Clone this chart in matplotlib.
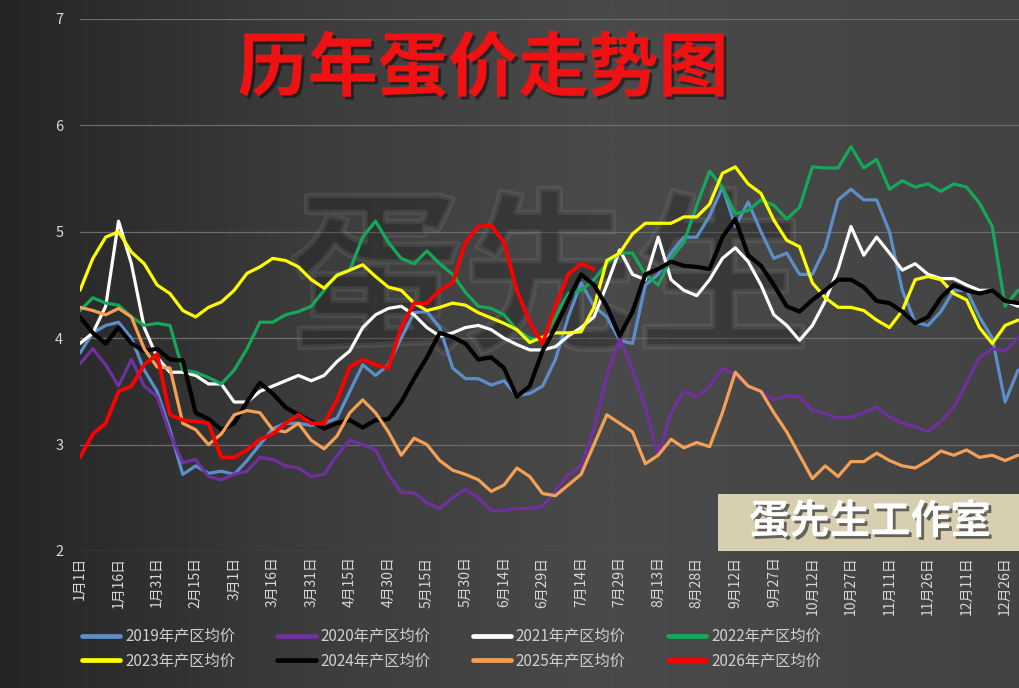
"""历年蛋价走势图:2019-2026 年产区鸡蛋均价对比(暗色背景)。"""

import matplotlib
matplotlib.use("Agg")  # 无头
import matplotlib.pyplot as plt
import matplotlib.patheffects as pe
from matplotlib.colors import LinearSegmentedColormap
from matplotlib.patches import Rectangle
import numpy as np

plt.rcParams["font.family"] = ["Noto Sans CJK SC", "DejaVu Sans"]
plt.rcParams["axes.unicode_minus"] = False

# 日序(闰年,每 5 天一个读数)
days = np.arange(1, 367, 5)

tick_days = np.arange(1, 362, 15)
tick_labels = [
    "1月1日", "1月16日", "1月31日", "2月15日", "3月1日", "3月16日", "3月31日",
    "4月15日", "4月30日", "5月15日", "5月30日", "6月14日", "6月29日", "7月14日",
    "7月29日", "8月13日", "8月28日", "9月12日", "9月27日", "10月12日", "10月27日",
    "11月11日", "11月26日", "12月11日", "12月26日",
]

p2019 = [3.86, 4.05, 4.12, 4.15, 4.0, 3.7, 3.5, 3.14, 2.72, 2.8,
         2.73, 2.75, 2.72, 2.85, 3.0, 3.15, 3.2, 3.2, 3.18, 3.2,
         3.25, 3.5, 3.75, 3.65, 3.75, 4.0, 4.24, 4.25, 4.1, 3.72,
         3.62, 3.62, 3.56, 3.6, 3.46, 3.48, 3.55, 3.8, 4.2, 4.52,
         4.3, 4.2, 3.98, 3.95, 4.5, 4.6, 4.8, 4.95, 4.95, 5.15,
         5.42, 5.05, 5.28, 5.0, 4.75, 4.8, 4.6, 4.6, 4.85, 5.3,
         5.4, 5.3, 5.3, 5.0, 4.45, 4.15, 4.12, 4.25, 4.45, 4.45,
         4.2, 4.0, 3.4, 3.7]
p2020 = [3.76, 3.9, 3.75, 3.55, 3.8, 3.55, 3.45, 3.1, 2.83, 2.86,
         2.7, 2.67, 2.72, 2.75, 2.88, 2.86, 2.8, 2.78, 2.7, 2.72,
         2.9, 3.04, 3.0, 2.95, 2.72, 2.55, 2.55, 2.45, 2.4, 2.5,
         2.58, 2.5, 2.38, 2.38, 2.4, 2.4, 2.42, 2.57, 2.72, 2.8,
         3.15, 3.65, 4.0, 3.7, 3.35, 2.9, 3.3, 3.5, 3.45, 3.55,
         3.72, 3.65, 3.55, 3.5, 3.42, 3.46, 3.45, 3.32, 3.29, 3.25,
         3.26, 3.3, 3.35, 3.26, 3.2, 3.17, 3.12, 3.22, 3.35, 3.58,
         3.82, 3.9, 3.88, 4.0]
p2021 = [3.95, 4.05, 4.3, 5.1, 4.7, 4.1, 3.82, 3.68, 3.68, 3.65,
         3.57, 3.57, 3.4, 3.4, 3.5, 3.55, 3.6, 3.65, 3.6, 3.65,
         3.78, 3.88, 4.1, 4.22, 4.28, 4.3, 4.22, 4.1, 4.02, 4.05,
         4.1, 4.12, 4.08, 4.0, 3.94, 3.89, 3.89, 3.92, 4.02, 4.1,
         4.2, 4.5, 4.83, 4.6, 4.55, 4.95, 4.55, 4.45, 4.4, 4.55,
         4.75, 4.85, 4.72, 4.5, 4.22, 4.12, 3.98, 4.12, 4.35, 4.65,
         5.05, 4.78, 4.95, 4.8, 4.64, 4.7, 4.6, 4.56, 4.56, 4.5,
         4.45, 4.45, 4.35, 4.3]
p2022 = [4.26, 4.38, 4.33, 4.31, 4.2, 4.12, 4.14, 4.12, 3.7, 3.68,
         3.63, 3.57, 3.7, 3.9, 4.15, 4.15, 4.22, 4.25, 4.3, 4.45,
         4.6, 4.64, 4.95, 5.1, 4.9, 4.75, 4.7, 4.82, 4.7, 4.6,
         4.43, 4.3, 4.28, 4.22, 4.08, 4.0, 3.98, 4.2, 4.42, 4.45,
         4.55, 4.7, 4.8, 4.8, 4.6, 4.5, 4.75, 4.9, 5.25, 5.57,
         5.42, 5.17, 5.2, 5.3, 5.25, 5.12, 5.23, 5.61, 5.6, 5.6,
         5.8, 5.6, 5.68, 5.4, 5.48, 5.42, 5.45, 5.38, 5.45, 5.42,
         5.27, 5.05, 4.3, 4.45]
p2023 = [4.45, 4.75, 4.95, 5.0, 4.81, 4.7, 4.5, 4.42, 4.26, 4.2,
         4.29, 4.34, 4.45, 4.61, 4.67, 4.75, 4.73, 4.67, 4.55, 4.47,
         4.59, 4.64, 4.69, 4.58, 4.48, 4.45, 4.33, 4.26, 4.29, 4.33,
         4.31, 4.24, 4.19, 4.14, 4.08, 3.96, 4.01, 4.05, 4.05, 4.06,
         4.29, 4.73, 4.8, 4.98, 5.08, 5.08, 5.08, 5.14, 5.14, 5.26,
         5.55, 5.61, 5.45, 5.36, 5.11, 4.92, 4.86, 4.52, 4.38, 4.29,
         4.29, 4.26, 4.17, 4.1, 4.26, 4.55, 4.58, 4.55, 4.42, 4.36,
         4.1, 3.95, 4.12, 4.17]
p2024 = [4.2, 4.05, 3.95, 4.1, 3.95, 3.88, 3.9, 3.8, 3.79, 3.3,
         3.24, 3.14, 3.2, 3.4, 3.58, 3.48, 3.35, 3.28, 3.22, 3.15,
         3.2, 3.23, 3.16, 3.23, 3.24, 3.4, 3.62, 3.82, 4.05, 4.01,
         3.95, 3.8, 3.82, 3.72, 3.45, 3.55, 3.88, 4.1, 4.36, 4.6,
         4.5, 4.3, 4.02, 4.25, 4.6, 4.65, 4.72, 4.68, 4.67, 4.65,
         4.95, 5.12, 4.78, 4.68, 4.5, 4.3, 4.25, 4.36, 4.45, 4.55,
         4.55, 4.48, 4.35, 4.33, 4.25, 4.14, 4.2, 4.38, 4.5, 4.45,
         4.42, 4.45, 4.35, 4.33]
p2025 = [4.29, 4.26, 4.22, 4.28, 4.2, 3.9, 3.73, 3.72, 3.2, 3.14,
         3.0, 3.1, 3.28, 3.32, 3.3, 3.14, 3.12, 3.2, 3.04, 2.96,
         3.08, 3.3, 3.42, 3.3, 3.12, 2.9, 3.06, 3.0, 2.85, 2.76,
         2.72, 2.67, 2.56, 2.62, 2.78, 2.7, 2.54, 2.52, 2.62, 2.72,
         3.0, 3.28, 3.2, 3.12, 2.82, 2.9, 3.05, 2.97, 3.02, 2.98,
         3.3, 3.68, 3.55, 3.5, 3.3, 3.12, 2.9, 2.68, 2.8, 2.7,
         2.84, 2.84, 2.92, 2.85, 2.8, 2.78, 2.85, 2.94, 2.9, 2.95,
         2.88, 2.9, 2.85, 2.9]
p2026 = [2.88, 3.1, 3.2, 3.5, 3.55, 3.75, 3.85, 3.28, 3.23, 3.22,
         3.2, 2.88, 2.88, 2.95, 3.05, 3.1, 3.2, 3.28, 3.2, 3.2,
         3.42, 3.73, 3.8, 3.75, 3.72, 4.1, 4.33, 4.33, 4.45, 4.52,
         4.9, 5.05, 5.06, 4.9, 4.45, 4.15, 3.95, 4.3, 4.6, 4.7,
         4.65]

series = [
    ("2019年产区均价", p2019, "#5b8fcb", 2.3),
    ("2020年产区均价", p2020, "#7030a0", 2.3),
    ("2021年产区均价", p2021, "#ffffff", 2.3),
    ("2022年产区均价", p2022, "#16a85a", 2.3),
    ("2023年产区均价", p2023, "#ffff00", 2.3),
    ("2024年产区均价", p2024, "#000000", 3.0),
    ("2025年产区均价", p2025, "#f4a055", 2.3),
    ("2026年产区均价", p2026, "#ff0000", 2.7),
]

W, H = 1019, 688
fig = plt.figure(figsize=(W / 100, H / 100), dpi=100)

# --- 背景渐变 ---
bg = fig.add_axes([0, 0, 1, 1], zorder=-10)
grad = np.vstack([np.linspace(0, 1, 400)] * 2)
cmap = LinearSegmentedColormap.from_list(
    "bg", [(0, "#252525"), (0.3, "#3c3c3c"), (0.6, "#4a4a4a"), (1, "#434343")]
)
bg.imshow(grad, aspect="auto", cmap=cmap, extent=[0, 1, 0, 1], origin="lower")
bg.set_axis_off()

# --- 主图 ---
ax = fig.add_axes([80 / W, 1 - 551 / H, 939 / W, 532 / H])
ax.set_facecolor("none")

handles = {}
for name, vals, color, lw in series:
    (ln,) = ax.plot(days[:len(vals)], vals, color=color, lw=lw,
                    solid_joinstyle="round", solid_capstyle="round",
                    label=name, zorder=3)
    handles[name] = ln

ax.set_xlim(1, 366.4)
ax.set_ylim(2, 7)
ax.set_yticks([2, 3, 4, 5, 6, 7])
ax.set_xticks(tick_days)
ax.set_xticklabels(tick_labels, rotation=90, fontsize=10, color="#d8d8d8")
ax.tick_params(axis="x", length=0, pad=4)
ax.tick_params(axis="y", length=0, pad=12, labelsize=10.5, labelcolor="#d8d8d8")
ax.yaxis.grid(True, color="#6c6c6c", lw=0.9)
ax.set_axisbelow(True)
for s in ax.spines.values():
    s.set_visible(False)

# 水印(淡淡的空心字)
ax.text(0.5, 0.5, "蛋先生", transform=ax.transAxes, ha="center", va="center",
        fontsize=125, fontweight="bold", color="none", zorder=1,
        path_effects=[pe.Stroke(linewidth=4, foreground="#8a8a8a", alpha=0.2)])

# 标题
fig.text(0.474, 0.898, "历年蛋价走势图", ha="center", va="center",
         fontsize=50.5, fontweight="bold", color="#f01212",
         path_effects=[pe.withSimplePatchShadow(offset=(2, -2), shadow_rgbFace="black", alpha=0.45)])

# 右下角标签
fig.patches.append(Rectangle((718 / W, 1 - 551 / H), 1 - 718 / W, 57 / H,
                             transform=fig.transFigure, facecolor="#d7cfb0",
                             edgecolor="none", zorder=5))
fig.text(870 / W, 1 - 522 / H, "蛋先生工作室", ha="center", va="center",
         fontsize=29, fontweight="bold", color="white", zorder=6,
         path_effects=[pe.withSimplePatchShadow(offset=(2, -2), shadow_rgbFace="#333333", alpha=0.7)])

# 图例(按列填充,顺序调整为两行四列)
order = ["2019年产区均价", "2023年产区均价", "2020年产区均价", "2024年产区均价",
         "2021年产区均价", "2025年产区均价", "2022年产区均价", "2026年产区均价"]
leg = fig.legend([handles[k] for k in order], order, ncol=4, frameon=False,
                 loc="upper left", bbox_to_anchor=(82 / W, 1 - 628 / H),
                 fontsize=11, handlelength=2.5, handletextpad=0.33,
                 columnspacing=2.75, labelspacing=0.5, borderpad=0, borderaxespad=0)
for t in leg.get_texts():
    t.set_color("#d0d0d0")
for ln in leg.get_lines():
    ln.set_linewidth(3.4)

fig.savefig("out.png", dpi=100)
